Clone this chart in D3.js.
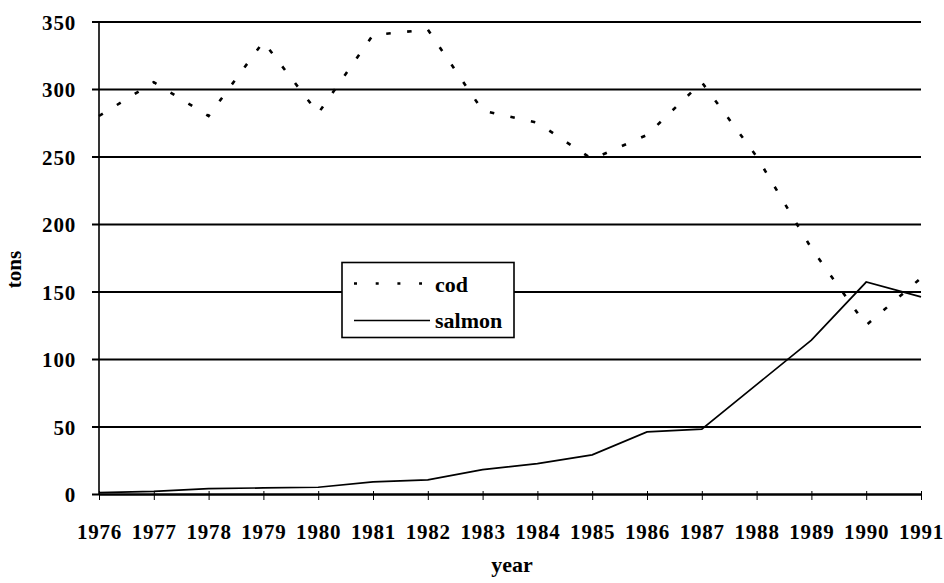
<!DOCTYPE html>
<meta charset="utf-8">
<script src="https://d3js.org/d3.v7.min.js"></script>
<style>
    body { margin: 0; background: #fff; }
    text { font-family: "Liberation Serif", serif; font-weight: bold; fill: #000; }
    .tick text { letter-spacing: 0.8px; }
</style>
<div id="chart"></div>
<script>
    // data
    var years = [1976, 1977, 1978, 1979, 1980, 1981, 1982, 1983, 1984, 1985, 1986, 1987, 1988, 1989, 1990, 1991];
    var cod = [280, 305, 280, 335, 282, 340, 344, 284, 275, 248, 266, 305, 250, 182, 125, 160];
    var salmon = [1, 2, 4, 4.5, 5, 9, 10.5, 18, 22.5, 29, 46, 48, 81, 114, 157, 146];
    var yTicks = [0, 50, 100, 150, 200, 250, 300, 350];

    var margin = { top: 21.5, right: 23, bottom: 89, left: 99 },
        width = 944 - margin.left - margin.right,
        height = 583 - margin.top - margin.bottom;

    var svg = d3.select("#chart")
        .append("svg")
        .attr("width", 944)
        .attr("height", 583)
        .append("g")
        .attr("transform", "translate(" + margin.left + "," + margin.top + ")");

    var x = d3.scaleLinear().domain([1976, 1991]).range([0, width]);
    var y = d3.scaleLinear().domain([0, 350]).range([height, 0]);

    // horizontal gridlines, drawn as a left axis anchored at the right edge
    var yAxis = svg.append("g")
        .attr("transform", "translate(" + width + ",0)")
        .call(d3.axisLeft(y).tickValues(yTicks).tickSize(width + 7).tickPadding(16));
    yAxis.select(".domain").remove();
    yAxis.selectAll(".tick line").attr("stroke", "#000").attr("stroke-width", 2.2);
    yAxis.selectAll(".tick text").style("font-size", "21px").attr("dy", "0.36em");

    // left axis line
    svg.append("line")
        .attr("x1", 0).attr("x2", 0)
        .attr("y1", y(350)).attr("y2", y(0))
        .attr("stroke", "#000").attr("stroke-width", 1.6);

    // bottom axis
    var xAxis = svg.append("g")
        .attr("transform", "translate(0," + height + ")")
        .call(d3.axisBottom(x).tickValues(years).tickFormat(d3.format("d"))
            .tickSizeInner(6).tickSizeOuter(0).tickPadding(24));
    xAxis.select(".domain").attr("stroke", "#000").attr("stroke-width", 2);
    xAxis.selectAll(".tick line").attr("stroke", "#000").attr("stroke-width", 1).attr("y1", -3);
    xAxis.selectAll(".tick text").style("font-size", "21px");

    var line = d3.line()
        .x(function (d, i) { return x(years[i]); })
        .y(function (d) { return y(d); });

    svg.append("path")
        .datum(cod)
        .attr("d", line)
        .attr("fill", "none")
        .attr("stroke", "#000")
        .attr("stroke-width", 2.6)
        .attr("stroke-dasharray", "4.5,16.5");

    svg.append("path")
        .datum(salmon)
        .attr("d", line)
        .attr("fill", "none")
        .attr("stroke", "#000")
        .attr("stroke-width", 1.7);

    // axis titles
    svg.append("text")
        .attr("x", 413)
        .attr("y", 550)
        .attr("text-anchor", "middle")
        .style("font-size", "22px")
        .text("year");

    svg.append("text")
        .attr("transform", "translate(-78," + 248 + ")rotate(-90)")
        .attr("text-anchor", "middle")
        .style("font-size", "21px")
        .text("tons");

    // legend
    var lg = svg.append("g").attr("transform", "translate(243,241)");
    lg.append("rect")
        .attr("width", 172).attr("height", 75)
        .attr("fill", "#fff").attr("stroke", "#000").attr("stroke-width", 1.6);
    lg.append("line")
        .attr("x1", 12).attr("x2", 80).attr("y1", 21).attr("y2", 21)
        .attr("stroke", "#000").attr("stroke-width", 2.6).attr("stroke-dasharray", "3,18.7");
    lg.append("line")
        .attr("x1", 12).attr("x2", 88).attr("y1", 58).attr("y2", 58)
        .attr("stroke", "#000").attr("stroke-width", 1.7);
    lg.append("text").attr("x", 93).attr("y", 29).style("font-size", "22px").text("cod");
    lg.append("text").attr("x", 93).attr("y", 65).style("font-size", "22px").text("salmon");
</script>
